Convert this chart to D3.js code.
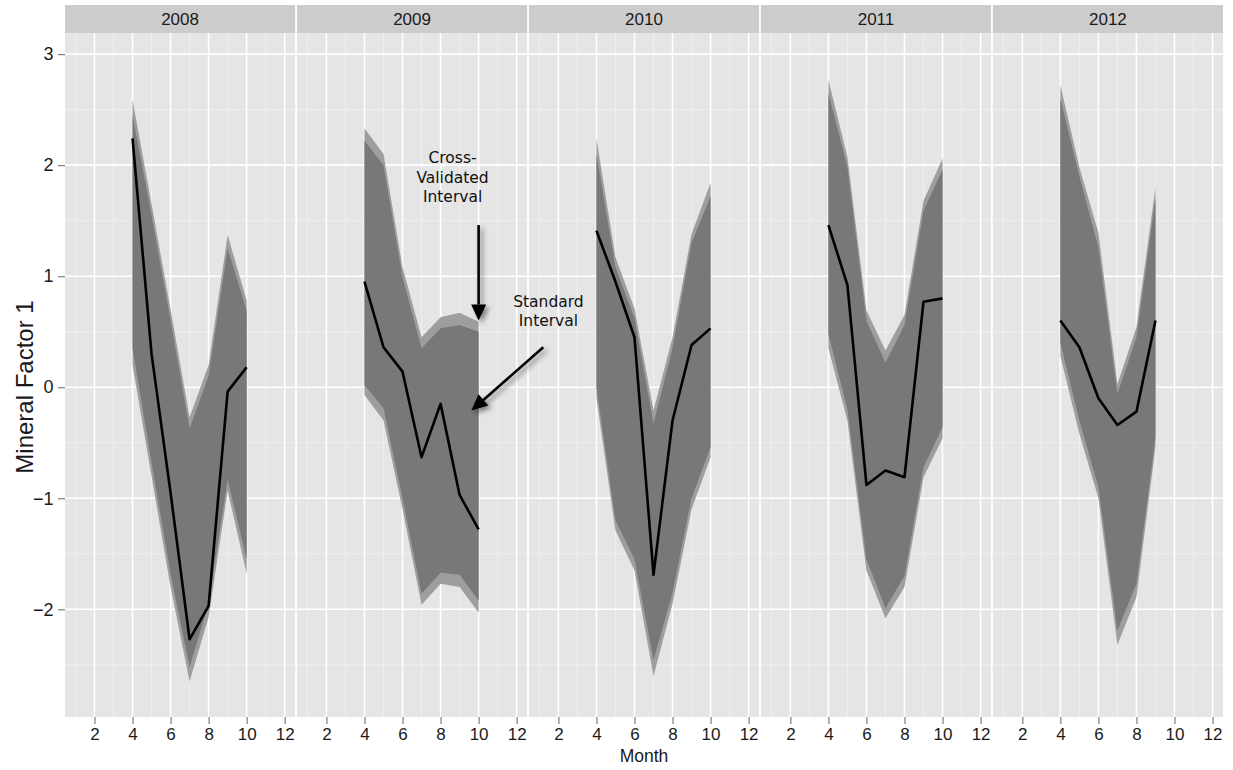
<!DOCTYPE html>
<html>
<head>
<meta charset="utf-8">
<script src="https://cdn.jsdelivr.net/npm/d3@7"></script>
<style>
  html, body { margin: 0; padding: 0; background: #ffffff; }
  svg { display: block; }
</style>
</head>
<body>
<svg id="chart" width="1233" height="770"></svg>
<script>
// Facet years and the months each one covers
const years = ["2008", "2009", "2010", "2011", "2012"];
const monthsByYear = [
  [4, 5, 6, 7, 8, 9, 10],
  [4, 5, 6, 7, 8, 9, 10],
  [4, 5, 6, 7, 8, 9, 10],
  [4, 5, 6, 7, 8, 9, 10],
  [4, 5, 6, 7, 8, 9]
];

// Fitted mineral factor per month (one array per year)
const fitted = [
  [2.24, 0.30, -0.95, -2.27, -1.97, -0.04, 0.18],
  [0.95, 0.36, 0.14, -0.63, -0.15, -0.97, -1.28],
  [1.41, 0.95, 0.45, -1.69, -0.30, 0.38, 0.53],
  [1.46, 0.92, -0.88, -0.75, -0.81, 0.77, 0.80],
  [0.60, 0.36, -0.10, -0.34, -0.22, 0.60]
];

// Cross-validated interval bounds
const cvUpper = [
  [2.59, 1.65, 0.70, -0.27, 0.20, 1.37, 0.78],
  [2.33, 2.10, 1.08, 0.45, 0.63, 0.67, 0.59],
  [2.24, 1.17, 0.71, -0.21, 0.45, 1.38, 1.84],
  [2.77, 2.07, 0.69, 0.33, 0.65, 1.68, 2.06],
  [2.72, 1.98, 1.39, 0.03, 0.54, 1.80]
];
const cvLower = [
  [0.20, -0.80, -1.80, -2.65, -2.07, -0.93, -1.68],
  [-0.07, -0.30, -1.10, -1.96, -1.77, -1.80, -2.03],
  [-0.10, -1.29, -1.65, -2.60, -1.95, -1.10, -0.63],
  [0.35, -0.30, -1.65, -2.08, -1.80, -0.81, -0.46],
  [0.28, -0.42, -1.00, -2.32, -1.89, -0.54]
];

// Standard interval bounds
const stdUpper = [
  [2.45, 1.55, 0.60, -0.37, 0.10, 1.25, 0.69],
  [2.22, 2.00, 0.99, 0.35, 0.53, 0.56, 0.50],
  [2.10, 1.08, 0.62, -0.33, 0.35, 1.30, 1.72],
  [2.65, 1.98, 0.60, 0.22, 0.56, 1.59, 1.96],
  [2.60, 1.90, 1.26, -0.06, 0.45, 1.70]
];
const stdLower = [
  [0.35, -0.68, -1.68, -2.52, -1.95, -0.83, -1.55],
  [0.02, -0.19, -1.00, -1.86, -1.67, -1.69, -1.92],
  [0.00, -1.20, -1.55, -2.46, -1.85, -1.00, -0.54],
  [0.48, -0.20, -1.55, -1.99, -1.70, -0.72, -0.36],
  [0.40, -0.30, -0.90, -2.19, -1.77, -0.45]
];

// Axis ticks
const xTicks = [2, 4, 6, 8, 10, 12];
const xMinor = [1, 3, 5, 7, 9, 11];
const yTicks = [3, 2, 1, 0, -1, -2];
const yMinor = [2.5, 1.5, 0.5, -0.5, -1.5, -2.5];

// ---- layout ----
const svg = d3.select("#chart");
const font = "'Liberation Sans', Arial, Helvetica, sans-serif";
const plotLeft = 65, plotRight = 1223, panelGap = 1.8;
const stripTop = 5, stripBottom = 33, panelBottom = 717;
const panelW = (plotRight - plotLeft - panelGap * (years.length - 1)) / years.length;

const y = d3.scaleLinear().domain([-2.97, 3.19]).range([panelBottom, stripBottom]);

const defs = svg.append("defs");
const shadow = defs.append("filter").attr("id", "soft-shadow")
  .attr("x", "-50%").attr("y", "-50%").attr("width", "200%").attr("height", "200%");
shadow.append("feDropShadow").attr("dx", 3).attr("dy", 3).attr("stdDeviation", 2.5)
  .attr("flood-color", "#000").attr("flood-opacity", 0.45);

const panelX = [];

years.forEach((yr, i) => {
  const x0 = plotLeft + i * (panelW + panelGap);
  const x = d3.scaleLinear().domain([0.45, 12.55]).range([x0, x0 + panelW]);
  panelX.push(x);
  const g = svg.append("g");

  // strip
  g.append("rect").attr("x", x0).attr("y", stripTop).attr("width", panelW)
    .attr("height", stripBottom - stripTop).attr("fill", "#cccccc");
  g.append("text").attr("x", x0 + panelW / 2).attr("y", (stripTop + stripBottom) / 2 + 6)
    .attr("text-anchor", "middle").attr("font-family", font).attr("font-size", 17)
    .attr("fill", "#1a1a1a").text(yr);

  // panel background
  g.append("rect").attr("x", x0).attr("y", stripBottom).attr("width", panelW)
    .attr("height", panelBottom - stripBottom).attr("fill", "#e5e5e5");

  // minor grid
  g.selectAll(".vminor").data(xMinor).enter().append("line")
    .attr("x1", d => x(d)).attr("x2", d => x(d))
    .attr("y1", stripBottom).attr("y2", panelBottom)
    .attr("stroke", "#f2f2f2").attr("stroke-width", 0.8);
  g.selectAll(".hminor").data(yMinor).enter().append("line")
    .attr("x1", x0).attr("x2", x0 + panelW)
    .attr("y1", d => y(d)).attr("y2", d => y(d))
    .attr("stroke", "#f2f2f2").attr("stroke-width", 0.8);
  // major grid
  g.selectAll(".vmajor").data(xTicks).enter().append("line")
    .attr("x1", d => x(d)).attr("x2", d => x(d))
    .attr("y1", stripBottom).attr("y2", panelBottom)
    .attr("stroke", "#ffffff").attr("stroke-width", 1.6);
  g.selectAll(".hmajor").data(yTicks).enter().append("line")
    .attr("x1", x0).attr("x2", x0 + panelW)
    .attr("y1", d => y(d)).attr("y2", d => y(d))
    .attr("stroke", "#ffffff").attr("stroke-width", 1.6);

  const months = monthsByYear[i];
  const rows = months.map((m, k) => ({
    m, fit: fitted[i][k],
    cvHi: cvUpper[i][k], cvLo: cvLower[i][k],
    sHi: stdUpper[i][k], sLo: stdLower[i][k]
  }));

  const cvArea = d3.area().x(d => x(d.m)).y0(d => y(d.cvLo)).y1(d => y(d.cvHi));
  const stdArea = d3.area().x(d => x(d.m)).y0(d => y(d.sLo)).y1(d => y(d.sHi));
  const fitLine = d3.line().x(d => x(d.m)).y(d => y(d.fit));

  g.append("path").datum(rows).attr("d", cvArea).attr("fill", "#9a9a9a").attr("fill-opacity", 0.95);
  g.append("path").datum(rows).attr("d", stdArea).attr("fill", "#777777").attr("fill-opacity", 0.97);
  g.append("path").datum(rows).attr("d", fitLine).attr("fill", "none")
    .attr("stroke", "#000").attr("stroke-width", 2.6).attr("stroke-linejoin", "round");

  // x axis
  const xAxis = d3.axisBottom(x).tickValues(xTicks).tickSize(7).tickPadding(4);
  const ax = svg.append("g").attr("transform", `translate(0,${panelBottom})`).call(xAxis);
  ax.select(".domain").remove();
  ax.selectAll(".tick line").attr("stroke", "#7f7f7f").attr("stroke-width", 1.2);
  ax.selectAll(".tick text").attr("font-family", font).attr("font-size", 17).attr("fill", "#1a1a1a");
});

// annotations in the 2009 panel, drawn on top of every panel
{
  const x = panelX[1];
  const ann = svg.append("g").attr("font-family", "'DejaVu Sans', Verdana, sans-serif")
    .attr("font-size", 15.5).attr("fill", "#111").attr("text-anchor", "middle");
  ["Cross-", "Validated", "Interval"].forEach((t, k) =>
    ann.append("text").attr("x", x(8.63)).attr("y", 163 + k * 19.5).text(t));
  ["Standard", "Interval"].forEach((t, k) =>
    ann.append("text").attr("x", x(13.67)).attr("y", 307 + k * 19).text(t));

  const arrows = svg.append("g").attr("filter", "url(#soft-shadow)");
  const drawArrow = (xa, ya, xb, yb) => {
    const ang = Math.atan2(yb - ya, xb - xa);
    const len = 16, half = 7.5;
    const bx = xb - len * Math.cos(ang), by = yb - len * Math.sin(ang);
    arrows.append("line").attr("x1", xa).attr("y1", ya).attr("x2", bx).attr("y2", by)
      .attr("stroke", "#000").attr("stroke-width", 2.6);
    arrows.append("path").attr("d",
      `M${xb},${yb}L${bx - half * Math.sin(ang)},${by + half * Math.cos(ang)}` +
      `L${bx + half * Math.sin(ang)},${by - half * Math.cos(ang)}Z`).attr("fill", "#000");
  };
  drawArrow(x(10), y(1.46), x(10), y(0.6));
  drawArrow(x(13.4), y(0.36), x(9.62), y(-0.21));
}

// y axis (left of first panel)
const yAxis = d3.axisLeft(y).tickValues(yTicks).tickSize(7).tickPadding(4.5)
  .tickFormat(d => d < 0 ? "\u2212" + Math.abs(d) : String(d));
const ay = svg.append("g").attr("transform", `translate(${plotLeft},0)`).call(yAxis);
ay.select(".domain").remove();
ay.selectAll(".tick line").attr("stroke", "#7f7f7f").attr("stroke-width", 1.2);
ay.selectAll(".tick text").attr("font-family", font).attr("font-size", 18).attr("fill", "#1a1a1a");

// axis titles
svg.append("text").attr("x", (plotLeft + plotRight) / 2).attr("y", 762)
  .attr("text-anchor", "middle").attr("font-family", font).attr("font-size", 17.5)
  .attr("fill", "#1a1a1a").text("Month");
svg.append("text").attr("transform", `translate(33,387) rotate(-90)`)
  .attr("text-anchor", "middle").attr("font-family", font).attr("font-size", 24)
  .attr("fill", "#1a1a1a").text("Mineral Factor 1");
</script>
</body>
</html>
